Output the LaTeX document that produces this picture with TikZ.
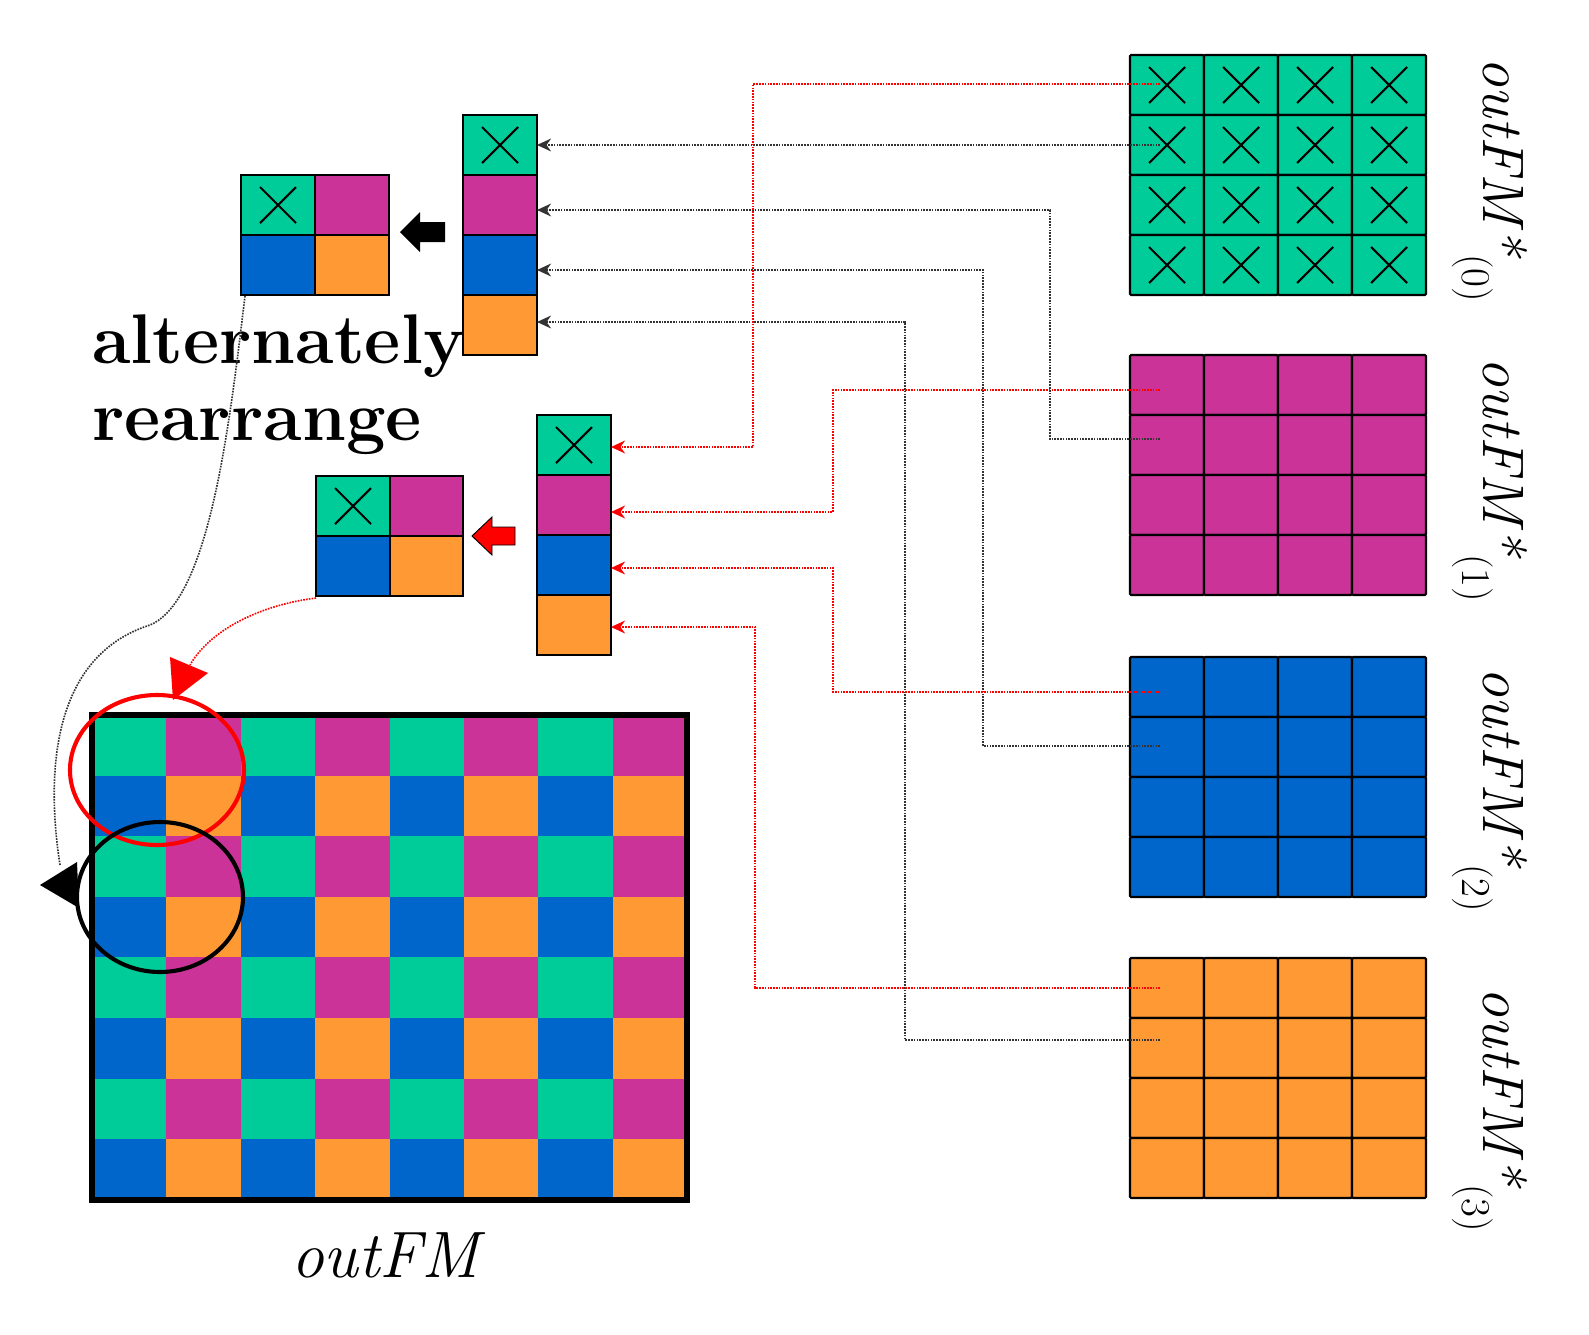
\documentclass[tikz,border=0pt]{standalone}
\usetikzlibrary{arrows.meta}
\definecolor{colG}{HTML}{00CC99}
\definecolor{colM}{HTML}{CC3399}
\definecolor{colB}{HTML}{0066CC}
\definecolor{colO}{HTML}{FF9933}
\begin{document}
\begin{tikzpicture}[x=0.03cm,y=-0.03cm,
  cell/.style={draw=black,line width=1.8pt},
  xm/.style={line width=1.8pt},
  blkline/.style={densely dotted,line width=1.4pt,black!80,-{Stealth[length=12pt,width=11pt]}},
  redline/.style={densely dotted,line width=1.4pt,red,-{Stealth[length=12pt,width=11pt]}},
  lab/.style={font=\itshape\fontsize{50}{54}\selectfont,rotate=-90}]
\useasboundingbox (0,0) rectangle (1589,1334);
\newcommand\xmark[2]{\draw[xm] (#1-18,#2-18) -- (#1+18,#2+18) (#1-18,#2+18) -- (#1+18,#2-18);}
\newcommand\sbs[1]{\textsubscript{\upshape(#1)}}
% big grids
\foreach \c/\y [count=\g from 0] in {colG/55,colM/355,colB/657,colO/958}{
  \foreach \i in {0,...,3}{\foreach \j in {0,...,3}{
    \draw[cell,fill=\c,rounded corners=1pt] (1130+\i*74,\y+\j*60) rectangle ++(74,60);}}
}
\foreach \i in {0,...,3}{\foreach \j in {0,...,3}{\xmark{1167+\i*74}{85+\j*60}}}
\node[lab] (l0) at (1490,180) {outFM*\sbs{0}};
\node[lab] (l1) at (1490,480) {outFM*\sbs{1}};
\node[lab] (l2) at (1490,790) {outFM*\sbs{2}};
\node[lab] (l3) at (1490,1110) {outFM*\sbs{3}};
% stacks
\foreach \c [count=\k from 0] in {colG,colM,colB,colO}{
  \draw[cell,fill=\c] (463,115+\k*60) rectangle ++(74,60);
  \draw[cell,fill=\c] (537,415+\k*60) rectangle ++(74,60);}
\xmark{500}{145}\xmark{574}{445}
% 2x2 blocks
\draw[cell,fill=colG] (241,175) rectangle (315,235); \draw[cell,fill=colM] (315,175) rectangle (389,235);
\draw[cell,fill=colB] (241,235) rectangle (315,295); \draw[cell,fill=colO] (315,235) rectangle (389,295);
\xmark{278}{205}
\draw[cell,fill=colG] (316,476) rectangle (390,536); \draw[cell,fill=colM] (390,476) rectangle (463,536);
\draw[cell,fill=colB] (316,536) rectangle (390,596); \draw[cell,fill=colO] (390,536) rectangle (463,596);
\xmark{353}{506}
% block arrows
\fill[black] (445,222) -- (420,222) -- (420,212) -- (400,232) -- (420,252) -- (420,242) -- (445,242) -- cycle;
\draw[fill=red,line width=0.8pt] (515,527) -- (492,527) -- (492,517) -- (472,536) -- (492,555) -- (492,545) -- (515,545) -- cycle;
% text
\node[font=\bfseries\fontsize{60}{66}\selectfont,anchor=west,align=left] (txt) at (88,385) {alternately\\rearrange};
% outFM
\foreach \i in {0,...,7}{\foreach \j in {0,...,7}{
  \pgfmathtruncatemacro\e{mod(\i,2)}\pgfmathtruncatemacro\f{mod(\j,2)}
  \ifnum\e=0 \ifnum\f=0 \def\cc{colG}\else\def\cc{colB}\fi
  \else \ifnum\f=0 \def\cc{colM}\else\def\cc{colO}\fi\fi
  \fill[fill=\cc] (92+\i*74.4,715+\j*60.6) rectangle ++(74.4,60.6);}}
\draw[line width=5pt] (92,715) rectangle (687,1200);
\node[font=\itshape\fontsize{56}{60}\selectfont] (ofm) at (385,1255) {outFM};
\draw[red,line width=3.5pt] (157,770) ellipse (87 and 75);
\draw[black,line width=3.5pt] (160,897) ellipse (83 and 75);
% connectors
\coordinate (A0) at (537,145);\coordinate (A1) at (537,210);\coordinate (A2) at (537,270);\coordinate (A3) at (537,322);
\coordinate (B0) at (611,447);\coordinate (B1) at (611,512);\coordinate (B2) at (611,568);\coordinate (B3) at (611,627);
\draw[blkline] (1160,145) -- (A0);
\draw[blkline] (1160,439) -- (1050,439) |- (A1);
\draw[blkline] (1160,746) -- (983,746) |- (A2);
\draw[blkline] (1160,1040) -- (905,1040) |- (A3);
\draw[redline] (1160,84) -- (753,84) |- (B0);
\draw[redline] (1160,390) -- (833,390) |- (B1);
\draw[redline] (1160,692) -- (833,692) |- (B2);
\draw[redline] (1160,988) -- (755,988) |- (B3);
\coordinate (bt) at (60,865);
\coordinate (rt) at (190,665);
\draw[densely dotted,line width=1.4pt,black!80] (245,296) .. controls (230,420) and (210,600) .. (150,625) .. controls (40,660) and (50,800) .. (bt);
\fill[black] (40,885) -- (77,862) -- (79,908) -- cycle;
\draw[densely dotted,line width=1.4pt,red] (316,598) .. controls (260,605) and (210,630) .. (rt);
\fill[red] (170,657) -- (208,673) -- (173,700) -- cycle;
\end{tikzpicture}
\end{document}
